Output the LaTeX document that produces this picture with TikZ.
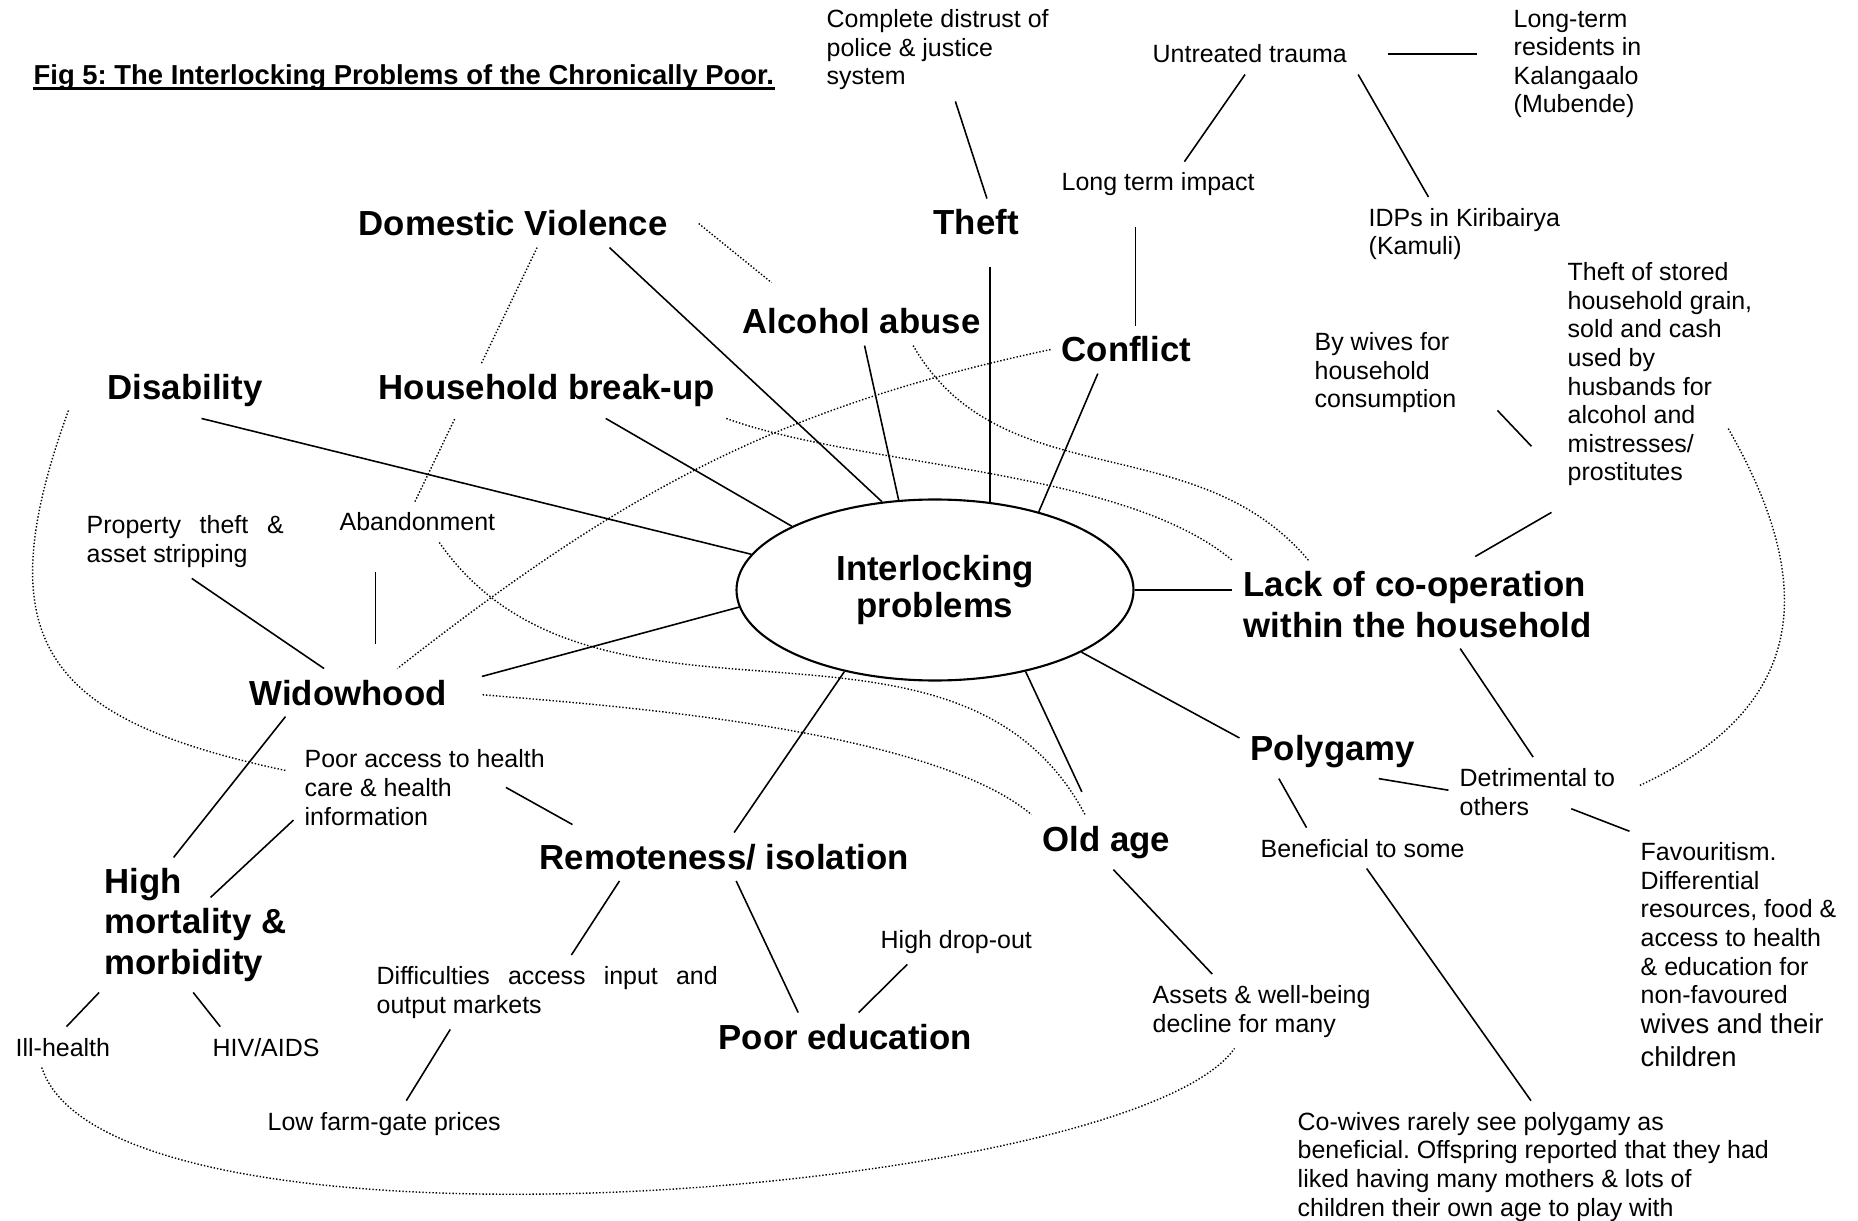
\documentclass[tikz,border=0pt]{standalone}
\usepackage{fontspec}
\setmainfont{Liberation Sans}
\setsansfont{Liberation Sans}
\frenchspacing
\usetikzlibrary{
  shapes.geometric, % Shape "ellipse"
  backgrounds,      % Predefined layer named "background"
  calc,             % Calculations $...$
}
\tikzset{
  font=\sffamily,
  my text/.style={
    anchor=base west,  % base = last line of the text
    xshift=-3pt,
    inner sep=3pt,
    align=left
  },
  my topic/.style={
    my text,
    font=\sffamily\bfseries\fontsize{9.9}{11.4}\selectfont
  },
  my note/.style={
    my text,
    font=\sffamily\fontsize{7.1}{8.15}\selectfont
  },
  my hub/.style={
    ellipse,
    draw,
    line width=0.6pt,
    minimum width=3.97cm,
    minimum height=1.81cm,
    inner sep=0pt,
    align=center,
    font=\sffamily\bfseries\fontsize{9.9}{10.3}\selectfont
  },
  my link/.style={
    line width=0.45pt
  },
  my hint/.style={
    line width=0.4pt,
    dash pattern=on 0.4pt off 0.55pt
  }
}

\begin{document}
\begin{tikzpicture}
\useasboundingbox (0,0) rectangle (18.58,12.20);
\begin{scope}[on background layer]
\fill[white] (0,0) rectangle (18.58,12.20);
\end{scope}

\node[anchor=base west, inner sep=0pt, font=\sffamily\bfseries\fontsize{7.8}{9}\selectfont] (title) at (0.33,11.35)
  {Fig 5: The Interlocking Problems of the Chronically Poor.};
\draw[line width=0.75pt] ([yshift=-1pt]title.base west) -- ([yshift=-1pt]title.base east);

\node[my hub] (ell) at (9.35,6.30) {Interlocking\\problems};

% problems
\node[my topic] (dv)         at (3.58,9.84)  {Domestic Violence};
\node[my topic] (theft)      at (9.33,9.85)  {Theft};
\node[my topic] (alcohol)    at (7.42,8.86)  {Alcohol abuse};
\node[my topic] (conflict)   at (10.61,8.58) {Conflict};
\node[my topic] (disability) at (1.07,8.20)  {Disability};
\node[my topic, fill=white] (breakup) at (3.78,8.20) {Household break-up};
\node[my topic] (lack)       at (12.43,5.83) {Lack of co-operation\\within the household};
\node[my topic] (widow)      at (2.49,5.15)  {Widowhood};
\node[my topic] (polygamy)   at (12.50,4.60) {Polygamy};
\node[my topic] (oldage)     at (10.42,3.69) {Old age};
\node[my topic] (remote)     at (5.39,3.51)  {Remoteness/ isolation};
\node[my topic] (mortality)  at (1.04,2.46)  {High\\mortality \&\\morbidity};
\node[my topic] (education)  at (7.18,1.71)  {Poor education};

% notes
\node[my note] (distrust)   at (8.26,11.35)  {Complete distrust of\\police \& justice\\system};
\node[my note] (trauma)     at (11.52,11.57) {Untreated trauma};
\node[my note] (kalangaalo) at (15.13,11.07) {Long-term\\residents in\\Kalangaalo\\(Mubende)};
\node[my note] (impact)     at (10.61,10.29) {Long term impact};
\node[my note] (idps)       at (13.68,9.65)  {IDPs in Kiribairya\\(Kamuli)};
\node[my note] (wives)      at (13.14,8.12)  {By wives for\\household\\consumption};
\node[my note] (grain)      at (15.67,7.39)  {Theft of stored\\household grain,\\sold and cash\\used by\\husbands for\\alcohol and\\mistresses/\\prostitutes};
\node[my note] (property)   at (0.86,6.58)   {\makebox[1.97cm][s]{Property theft \&}\\asset stripping};
\node[my note] (abandon)    at (3.39,6.89)   {Abandonment};
\node[my note] (access)     at (3.04,3.95)   {Poor access to health\\care \& health\\information};
\node[my note] (detrim)     at (14.59,4.05)  {Detrimental to\\others};
\node[my note] (benefit)    at (12.60,3.63)  {Beneficial to some};
\node[my note] (favour)     at (16.40,1.54)  {Favouritism.\\Differential\\resources, food \&\\access to health\\\& education for\\non-favoured\\[0.4pt]{\fontsize{7.8}{9.1}\selectfont wives and their}\\[1pt]{\fontsize{7.8}{9.1}\selectfont children}};
\node[my note] (dropout)    at (8.80,2.72)   {High drop-out};
\node[my note] (difficult)  at (3.76,2.07)   {\makebox[3.41cm][s]{Difficulties access input and}\\output markets};
\node[my note] (assets)     at (11.52,1.88)  {Assets \& well-being\\decline for many};
\node[my note] (illhealth)  at (0.15,1.64)   {Ill-health};
\node[my note] (hiv)        at (2.12,1.64)   {HIV/AIDS};
\node[my note] (farmgate)   at (2.67,0.90)   {Low farm-gate prices};
\node[my note] (cowives)    at (12.97,0.04)  {Co-wives rarely see polygamy as\\beneficial. Offspring reported that they had\\liked having many mothers \& lots of\\children their own age to play with};

% solid links
\draw[my link] (distrust.-71) -- (theft.66);
\draw[my link, shorten <=0.3cm, shorten >=0.25cm] (trauma.east) -- (trauma.east -| kalangaalo.west);
\draw[my link] (trauma.-103) -- (impact.41);
\draw[my link] (trauma.south east) -- (idps.134);
\draw[my link, shorten <=0.2cm]
  ($(impact.south -| conflict.north)+(0.09,0)$) -- ($(conflict.north)+(0.09,0)$);
\draw[my link, shorten <=0.2cm] (theft.south -| ell.58) -- (ell.58);
\draw[my link] (dv.-14) -- (ell.121);
\draw[my link] (alcohol.-83) -- (ell.112);
\draw[my link] (conflict.-140) -- (ell.37);
\draw[my link] (breakup.-25) -- (ell.156);
\draw[my link] (disability.-59) -- (ell.169);
\draw[my link, shorten <=0.25cm] (widow.5) -- (ell.185);
\draw[my link] (remote.68) -- (ell.222);
\draw[my link, shorten <=0.25cm] (oldage.117) -- (ell.-42);
\draw[my link] (polygamy.172) -- (ell.-23);
\draw[my link] (ell.east) -- (ell.east -| lack.west);
\draw[my link] (property.-80) -- (widow.135);
\draw[my link, shorten <=0.3cm, shorten >=0.25cm]
  ($(abandon.south west)+(0.47,0)$) -- ($(abandon.south west |- widow.north)+(0.47,0)$);
\draw[my link] (widow.-159) -- (mortality.108);
\draw[my link] (access.-166) -- ($(mortality.north)+(0.15,-0.4)$);
\draw[my link] ($(access.east)+(-0.5,0)$) -- ($(remote.north west)+(0.44,0.08)$);
\draw[my link] (mortality.-145) -- (illhealth.80);
\draw[my link] (mortality.-92) -- (hiv.156);
\draw[my link] (remote.-167) -- (difficult.57);
\draw[my link] (remote.-64) -- (education.153);
\draw[my link] (dropout.-155) -- (education.61);
\draw[my link] (difficult.-159) -- (farmgate.46);
\draw[my link] (oldage.-76) -- (assets.143);
\draw[my link] (polygamy.-31) -- (detrim.179);
\draw[my link] (polygamy.-153) -- (benefit.160);
\draw[my link] (lack.-46) -- (detrim.97);
\draw[my link] ($(detrim.east)+(-0.55,-0.17)$) -- (favour.north west);
\draw[my link] (benefit.-79) -- (cowives.92);
\draw[my link] ($(wives.south east)+(0.3,0.14)$) -- ($(grain.west)+(-0.25,-0.72)$);
\draw[my link, shorten >=0.08cm] ($(grain.south west)+(-0.05,-0.15)$) -- (lack.41);

% dotted links
\begin{scope}[on background layer]
\draw[my hint] (dv.-45) -- (abandon.97);
\end{scope}
\draw[my hint] ($(dv.east)+(0.2,0)$) -- ($(alcohol.north west)+(0.4,0.15)$);
\draw[my hint] (breakup.south east) to[out=-20,in=140,looseness=0.7] (lack.north west);
\draw[my hint] (alcohol.-25) to[out=-60,in=130] (lack.158);
\draw[my hint] (conflict.west) to[out=192,in=38] (widow.26);
\draw[my hint] (abandon.-43) to[out=-55,in=118] (oldage.128);
\draw[my hint, shorten <=0.25cm] (widow.east) to[out=-5,in=140,looseness=0.6] (oldage.north west);
\draw[my hint] ($(disability.south west)+(-0.28,0.08)$)
  to[out=250,in=168,looseness=1.5] ($(access.west)+(-0.08,0.17)$);
\draw[my hint] (illhealth.-136) .. controls +(-72:2.2) and +(-125:1.8) .. (assets.-126);
\draw[my hint, shorten <=0.15cm] (detrim.east)
  to[out=25,in=-60,looseness=1.3] ($(grain.east)+(-0.36,-0.53)$);
\end{tikzpicture}
\end{document}
